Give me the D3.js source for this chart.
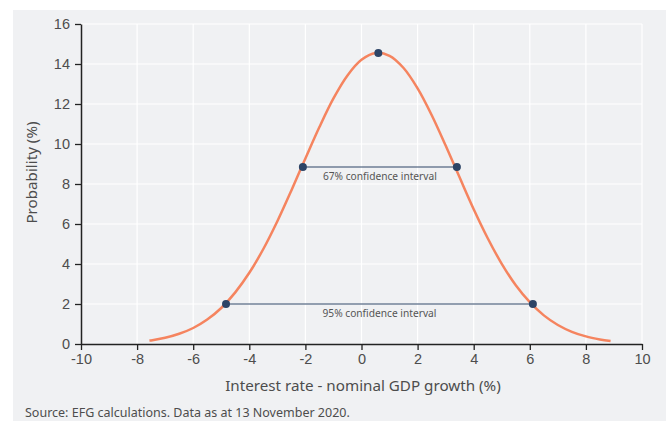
<!DOCTYPE html>
<html><head><meta charset="utf-8">
<script src="https://cdn.jsdelivr.net/npm/d3@7"></script>
<style>
body{margin:0;background:#fff;}
svg{display:block;font-family:"Noto Sans","Open Sans",sans-serif;}
</style></head>
<body><svg id="c" width="666" height="421"></svg>
<script>
// Curve points
const curveX = [-7.56,-7.5,-7,-6.5,-6,-5.5,-5,-4.5,-4,-3.5,-3,-2.5,-2,-1.5,-1,-0.5,0,0.5,1,1.5,2,2.5,3,3.5,4,4.5,5,5.5,6,6.5,7,7.5,8,8.5,8.88];
const curveY = [0.17,0.18,0.31,0.51,0.80,1.22,1.80,2.58,3.56,4.75,6.14,7.68,9.28,10.85,12.28,13.43,14.21,14.55,14.41,13.80,12.78,11.45,9.92,8.32,6.74,5.29,4.01,2.94,2.09,1.43,0.95,0.61,0.38,0.23,0.15];
// Highlighted points
const peak = {x:0.6, y:14.55};
const intervalLabels = ["67% confidence interval","95% confidence interval"];
const intervalLow = [-2.09,-4.83];
const intervalHigh = [3.40,6.11];
const intervalY = [8.85,2.0];
const xTicks = [-10,-8,-6,-4,-2,0,2,4,6,8,10];
const yTicks = [0,2,4,6,8,10,12,14,16];
const xTitle = "Interest rate - nominal GDP growth (%)";
const yTitle = "Probability (%)";
const source = "Source: EFG calculations. Data as at 13 November 2020.";

const svg = d3.select("#c");
svg.append("rect").attr("x",13).attr("y",10).attr("width",653).attr("height",411).attr("fill","#f0f1f3");

const x = d3.scaleLinear().domain([-10,10]).range([81,642]);
const y = d3.scaleLinear().domain([0,16]).range([344,24]);

// grid
svg.append("g").selectAll("line").data(xTicks.slice(1)).join("line")
  .attr("x1",d=>x(d)).attr("x2",d=>x(d)).attr("y1",y(0)).attr("y2",y(16))
  .attr("stroke","#fff").attr("stroke-width",1.2);
svg.append("g").selectAll("line").data(yTicks.slice(1)).join("line")
  .attr("x1",x(-10)).attr("x2",x(10)).attr("y1",d=>y(d)).attr("y2",d=>y(d))
  .attr("stroke","#fff").attr("stroke-width",1.2);

// axes
const xa = svg.append("g").attr("transform",`translate(0,${y(0)})`)
  .call(d3.axisBottom(x).tickValues(xTicks).tickSize(6).tickPadding(4).tickSizeOuter(0).tickFormat(d3.format("d")));
const ya = svg.append("g").attr("transform",`translate(${x(-10)},0)`)
  .call(d3.axisLeft(y).tickValues(yTicks).tickSize(6).tickPadding(5).tickSizeOuter(0));
[xa,ya].forEach(a=>{
  a.select(".domain").attr("stroke","#222").attr("stroke-width",1.5);
  a.selectAll(".tick line").attr("stroke","#222").attr("stroke-width",1.3);
  a.selectAll("text").attr("fill","#4d4d4d").attr("font-size",14.5).attr("font-family","inherit");
});
xa.selectAll("text").text(d=>d<0?"-"+Math.abs(d):d);

// curve
const pts = curveX.map((v,i)=>[v,curveY[i]]);
svg.append("path").datum(pts)
  .attr("d",d3.line().x(d=>x(d[0])).y(d=>y(d[1])).curve(d3.curveCatmullRom))
  .attr("fill","none").attr("stroke","#f5845f").attr("stroke-width",2.5);

// intervals
intervalLabels.forEach((lab,i)=>{
  svg.append("line").attr("x1",x(intervalLow[i])).attr("x2",x(intervalHigh[i]))
    .attr("y1",y(intervalY[i])).attr("y2",y(intervalY[i])).attr("stroke","#2d4466").attr("stroke-width",1.2);
  [intervalLow[i],intervalHigh[i]].forEach(v=>{
    svg.append("circle").attr("cx",x(v)).attr("cy",y(intervalY[i])).attr("r",4).attr("fill","#2d4466");
  });
  svg.append("text").attr("x",(x(intervalLow[i])+x(intervalHigh[i]))/2).attr("y",y(intervalY[i])+12.5)
    .attr("text-anchor","middle").attr("font-size",10.2).attr("fill","#555").text(lab);
});
svg.append("circle").attr("cx",x(peak.x)).attr("cy",y(peak.y)).attr("r",4).attr("fill","#2d4466");

// titles
svg.append("text").attr("x",363).attr("y",391).attr("text-anchor","middle").attr("font-size",15.2).attr("fill","#4d4d4d").text(xTitle);
svg.append("text").attr("transform",`translate(37,${(108+237)/2}) rotate(-90)`).attr("text-anchor","middle").attr("font-size",15.2).attr("fill","#4d4d4d").text(yTitle);
svg.append("text").attr("x",25).attr("y",417).attr("font-size",12.5).attr("fill","#4d4d4d").text(source);
</script></body></html>
